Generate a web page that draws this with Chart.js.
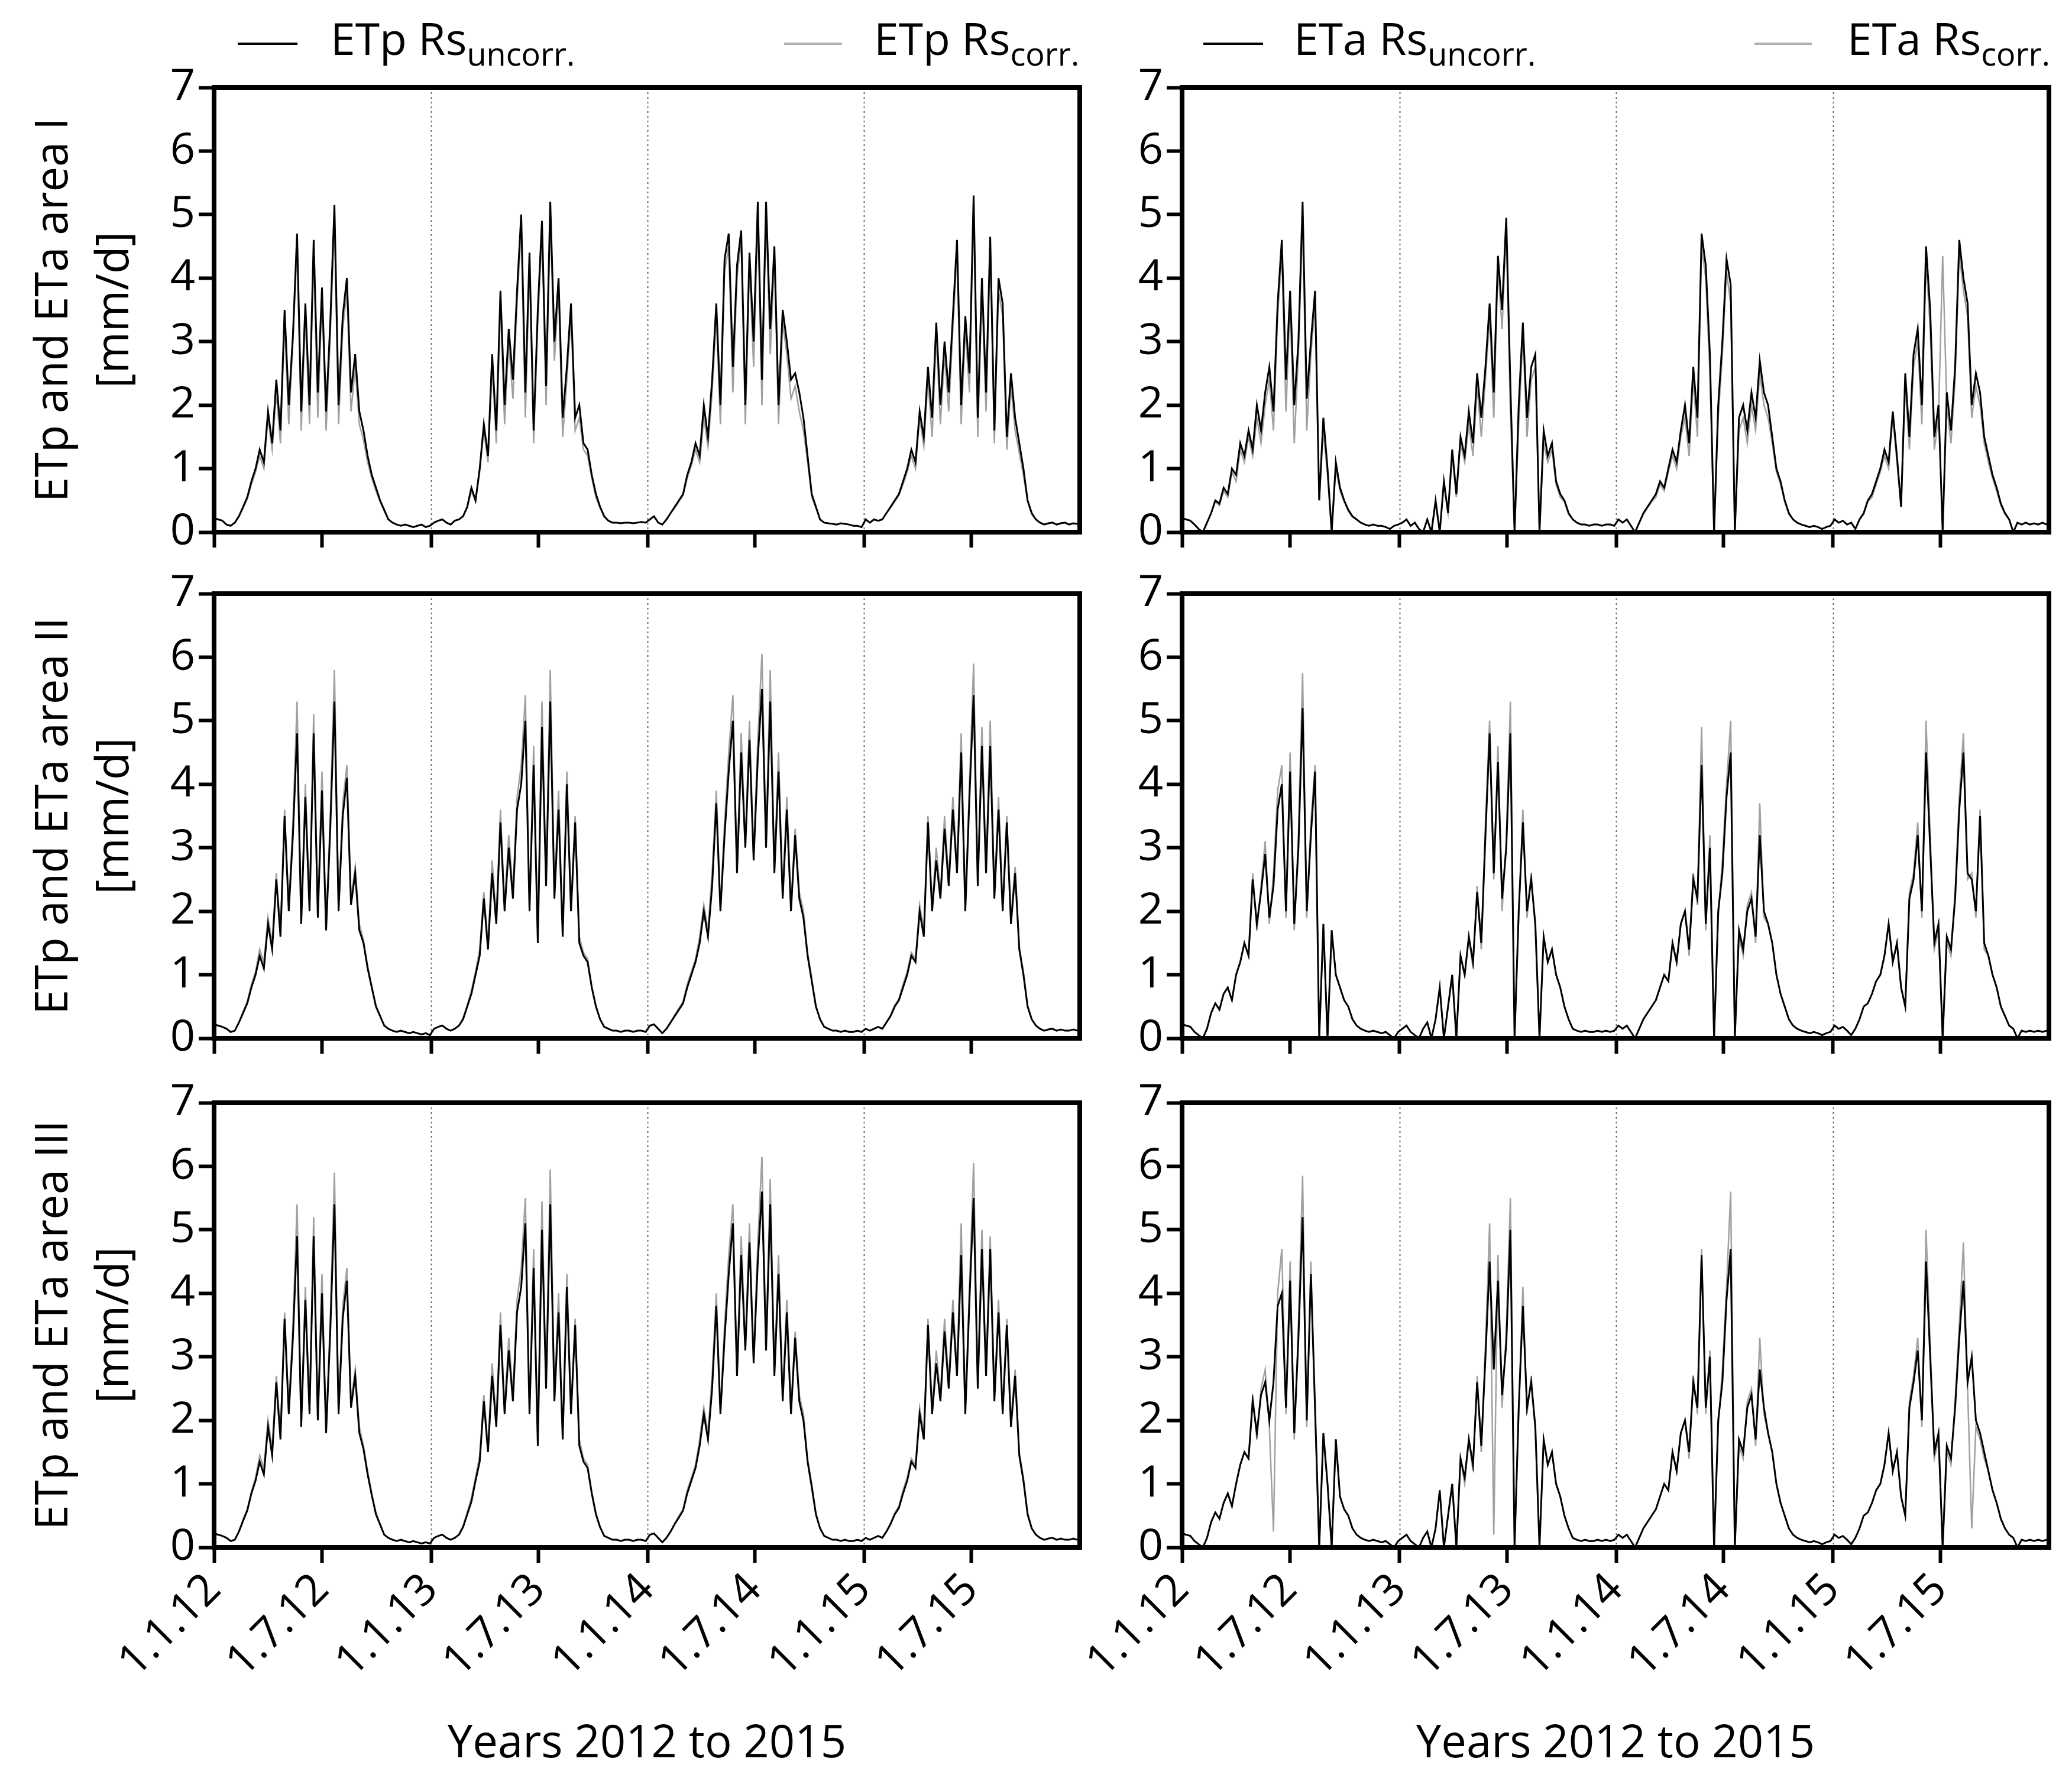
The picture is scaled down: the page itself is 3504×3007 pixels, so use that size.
<!DOCTYPE html>
<html><head><meta charset="utf-8">
<script src="https://cdn.jsdelivr.net/npm/chart.js@4.4.0/dist/chart.umd.min.js"></script>
<style>
html,body{margin:0;padding:0;background:#fff;}
body{width:3504px;height:3007px;position:relative;overflow:hidden;font-family:'Open Sans',sans-serif;color:#000;}
canvas{position:absolute;}
.leg{position:absolute;font-size:75px;line-height:75px;white-space:nowrap;top:27px;}
.leg sub{font-size:54px;vertical-align:-18px;line-height:0;}
.legline{position:absolute;height:4px;top:72px;}
.ytitle{position:absolute;width:900px;height:206px;font-size:76px;line-height:103px;text-align:center;transform:rotate(-90deg);white-space:nowrap;}
.xtitle{position:absolute;width:1000px;text-align:center;font-size:76px;line-height:76px;top:2905px;white-space:nowrap;}
</style></head><body>
<div class="legline" style="left:402px;width:101px;background:#000"></div>
<div class="leg" style="left:559px">ETp Rs<sub>uncorr.</sub></div>
<div class="legline" style="left:1326px;width:98px;background:#b0b0b0"></div>
<div class="leg" style="left:1478px">ETp Rs<sub>corr.</sub></div>
<div class="legline" style="left:2035px;width:101px;background:#000"></div>
<div class="leg" style="left:2188px">ETa Rs<sub>uncorr.</sub></div>
<div class="legline" style="left:2967px;width:97px;background:#b0b0b0"></div>
<div class="leg" style="left:3124px">ETa Rs<sub>corr.</sub></div>
<div class="xtitle" style="left:594px">Years 2012 to 2015</div>
<div class="xtitle" style="left:2232px">Years 2012 to 2015</div>
<script>
// ---- tick labels / axis data ----
const tickDays = [0, 182, 366, 547, 731, 912, 1096, 1277];
const tickLabels = ["1.1.12", "1.7.12", "1.1.13", "1.7.13", "1.1.14", "1.7.14", "1.1.15", "1.7.15"];
const yearLineDays = [366, 731, 1096];
const areaNames = ["I", "II", "III"];
const yTicks = [0, 1, 2, 3, 4, 5, 6, 7];
// weekly samples (every 7 days from 1.1.12), mm/d
const etpI_uncorr = [
0.22,0.2,0.18,0.12,0.1,0.15,0.25,0.4,0.55,0.8,1.0,1.3,1.1,1.9,1.4,2.4,1.6,3.5,2.0,3.1,4.7,1.9,3.6,2.0,4.6,2.2,3.85,1.9,3.3,5.15,2.0,3.4,4.0,2.2,2.8,1.9,1.6,1.2,0.9,0.7,0.5,0.35,0.2,0.15,0.12,0.1,0.12,0.1,0.08,0.1,0.12,0.08,0.1,
0.15,0.18,0.2,0.15,0.12,0.18,0.2,0.25,0.4,0.7,0.5,1.0,1.7,1.2,2.8,1.6,3.8,2.0,3.2,2.4,3.8,5.0,2.2,4.4,1.6,3.5,4.9,2.3,5.2,3.0,4.0,1.8,2.6,3.6,1.8,2.0,1.4,1.3,0.9,0.6,0.4,0.25,0.18,0.15,0.15,0.14,0.15,0.15,0.14,0.15,0.16,0.15,
0.2,0.25,0.15,0.12,0.2,0.3,0.4,0.5,0.6,0.9,1.1,1.4,1.2,2.0,1.5,2.4,3.6,2.0,4.3,4.7,2.6,4.2,4.75,2.0,4.4,3.0,5.2,2.4,5.2,3.2,4.5,2.0,3.5,3.0,2.4,2.5,2.2,1.8,1.2,0.6,0.4,0.2,0.15,0.14,0.13,0.12,0.14,0.13,0.12,0.1,0.1,0.08,
0.2,0.15,0.2,0.18,0.2,0.3,0.4,0.5,0.6,0.8,1.0,1.3,1.1,1.9,1.5,2.6,1.8,3.3,2.0,3.0,2.2,3.4,4.6,2.0,3.4,2.5,5.3,1.8,4.0,2.2,4.65,1.6,4.0,3.6,1.5,2.5,1.8,1.4,1.0,0.5,0.3,0.2,0.15,0.12,0.14,0.15,0.12,0.14,0.15,0.12,0.14,0.13];
const etpI_corr = [
0.22,0.2,0.18,0.12,0.1,0.15,0.25,0.38,0.52,0.75,0.95,1.2,1.0,1.8,1.3,2.2,1.4,3.3,1.7,3.0,4.5,1.6,3.4,1.7,4.4,1.8,3.7,1.6,3.1,4.9,1.7,3.2,3.8,1.9,2.6,1.7,1.45,1.1,0.85,0.65,0.48,0.33,0.2,0.15,0.12,0.1,0.12,0.1,0.08,0.1,0.12,0.08,0.1,
0.15,0.18,0.2,0.15,0.12,0.18,0.2,0.25,0.38,0.65,0.48,0.95,1.6,1.1,2.6,1.4,3.6,1.7,3.0,2.1,3.6,4.8,1.8,4.2,1.4,3.3,4.7,2.0,5.0,2.7,3.8,1.5,2.4,3.4,1.6,1.8,1.3,1.2,0.85,0.55,0.38,0.24,0.18,0.15,0.15,0.14,0.15,0.15,0.14,0.15,0.16,0.15,
0.2,0.25,0.15,0.12,0.2,0.3,0.38,0.48,0.58,0.85,1.05,1.3,1.1,1.8,1.35,2.2,3.4,1.7,4.1,4.5,2.2,4.0,4.6,1.7,4.2,2.6,5.0,2.0,5.0,2.8,4.3,1.7,3.3,2.8,2.1,2.3,1.9,1.6,1.1,0.55,0.38,0.2,0.15,0.14,0.13,0.12,0.14,0.13,0.12,0.1,0.1,0.08,
0.2,0.15,0.2,0.18,0.2,0.3,0.38,0.48,0.58,0.75,0.95,1.2,1.0,1.8,1.35,2.4,1.5,3.1,1.7,2.8,1.9,3.2,4.4,1.7,3.2,2.2,5.1,1.5,3.8,1.9,4.5,1.4,3.8,3.4,1.3,2.3,1.6,1.25,0.9,0.48,0.28,0.2,0.15,0.12,0.14,0.15,0.12,0.14,0.15,0.12,0.14,0.13];
const etpII_uncorr = [
0.22,0.2,0.18,0.15,0.1,0.12,0.25,0.4,0.55,0.8,1.0,1.3,1.1,1.8,1.4,2.5,1.6,3.5,2.0,3.2,4.8,1.8,3.8,2.0,4.8,1.9,3.9,1.7,3.3,5.3,2.0,3.5,4.1,2.1,2.6,1.7,1.5,1.1,0.8,0.5,0.35,0.2,0.15,0.12,0.1,0.12,0.1,0.08,0.1,0.08,0.06,0.08,0.05,
0.15,0.18,0.2,0.15,0.12,0.15,0.2,0.3,0.5,0.7,1.0,1.3,2.2,1.4,2.6,1.8,3.4,2.0,3.0,2.2,3.6,4.0,5.0,2.0,4.3,1.5,4.9,2.4,5.3,2.2,3.6,1.6,4.0,2.0,3.4,1.5,1.3,1.2,0.8,0.5,0.3,0.18,0.15,0.12,0.12,0.1,0.12,0.12,0.1,0.12,0.12,0.1,
0.2,0.22,0.15,0.08,0.15,0.25,0.35,0.45,0.55,0.8,1.0,1.2,1.5,2.0,1.6,2.4,3.7,2.0,3.2,4.2,5.0,2.6,4.5,3.0,4.7,2.8,4.4,5.5,3.0,5.3,2.6,4.2,2.2,3.6,2.0,3.2,2.2,1.9,1.3,0.9,0.5,0.3,0.18,0.15,0.12,0.12,0.1,0.12,0.1,0.1,0.12,0.1,
0.15,0.12,0.15,0.18,0.15,0.25,0.35,0.5,0.6,0.8,1.0,1.3,1.2,2.0,1.6,3.4,2.0,2.8,2.2,3.3,2.4,3.6,2.6,4.5,2.0,3.8,5.4,2.4,4.6,2.6,4.6,2.2,3.6,2.0,3.4,1.8,2.6,1.4,1.0,0.5,0.3,0.2,0.15,0.12,0.14,0.15,0.12,0.14,0.12,0.12,0.14,0.12];
const etpII_corr = [
0.22,0.2,0.18,0.15,0.1,0.12,0.25,0.42,0.58,0.85,1.05,1.4,1.2,1.9,1.5,2.6,1.7,3.6,2.1,3.4,5.3,1.9,4.0,2.1,5.1,2.0,4.2,1.8,3.5,5.8,2.1,3.7,4.3,2.2,2.7,1.8,1.55,1.15,0.82,0.52,0.36,0.2,0.15,0.12,0.1,0.12,0.1,0.08,0.1,0.08,0.06,0.08,0.05,
0.15,0.18,0.2,0.15,0.12,0.15,0.2,0.32,0.52,0.75,1.05,1.4,2.3,1.5,2.8,1.9,3.6,2.1,3.2,2.3,3.8,4.3,5.4,2.1,4.6,1.6,5.3,2.5,5.8,2.3,3.9,1.7,4.2,2.1,3.5,1.6,1.35,1.25,0.82,0.52,0.3,0.18,0.15,0.12,0.12,0.1,0.12,0.12,0.1,0.12,0.12,0.1,
0.2,0.22,0.15,0.08,0.15,0.25,0.37,0.47,0.58,0.85,1.05,1.25,1.6,2.1,1.7,2.6,3.9,2.1,3.4,4.5,5.4,2.7,4.8,3.1,5.0,2.9,4.7,6.05,3.1,5.8,2.7,4.5,2.3,3.8,2.1,3.3,2.3,2.0,1.35,0.95,0.52,0.3,0.18,0.15,0.12,0.12,0.1,0.12,0.1,0.1,0.12,0.1,
0.15,0.12,0.15,0.18,0.15,0.25,0.37,0.52,0.62,0.85,1.05,1.35,1.25,2.1,1.7,3.5,2.1,3.0,2.3,3.5,2.5,3.8,2.7,4.8,2.1,4.0,5.9,2.5,4.9,2.7,5.0,2.3,3.8,2.1,3.5,1.9,2.7,1.45,1.05,0.52,0.3,0.2,0.15,0.12,0.14,0.15,0.12,0.14,0.12,0.12,0.14,0.12];
const etpIII_uncorr = [
0.22,0.2,0.18,0.15,0.1,0.12,0.25,0.42,0.58,0.85,1.05,1.35,1.15,1.9,1.45,2.6,1.7,3.6,2.1,3.3,4.9,1.9,3.9,2.1,4.9,2.0,4.0,1.8,3.4,5.4,2.1,3.6,4.2,2.2,2.7,1.8,1.55,1.15,0.82,0.52,0.36,0.2,0.15,0.12,0.1,0.12,0.1,0.08,0.1,0.08,0.06,0.08,0.06,
0.15,0.18,0.2,0.15,0.12,0.15,0.2,0.32,0.52,0.72,1.05,1.35,2.3,1.5,2.7,1.9,3.5,2.1,3.1,2.3,3.7,4.1,5.1,2.1,4.4,1.6,5.0,2.5,5.4,2.3,3.7,1.7,4.1,2.1,3.5,1.6,1.35,1.25,0.85,0.52,0.32,0.18,0.15,0.12,0.12,0.1,0.12,0.12,0.1,0.12,0.12,0.1,
0.2,0.22,0.15,0.08,0.15,0.25,0.37,0.47,0.58,0.85,1.05,1.25,1.6,2.1,1.7,2.5,3.8,2.1,3.3,4.3,5.1,2.7,4.6,3.1,4.8,2.9,4.5,5.6,3.1,5.4,2.7,4.3,2.3,3.7,2.1,3.3,2.3,2.0,1.35,0.95,0.52,0.3,0.18,0.15,0.12,0.12,0.1,0.12,0.1,0.1,0.12,0.1,
0.15,0.12,0.15,0.18,0.15,0.25,0.37,0.52,0.62,0.85,1.05,1.35,1.25,2.1,1.7,3.5,2.1,2.9,2.3,3.4,2.5,3.7,2.7,4.6,2.1,3.9,5.5,2.5,4.7,2.7,4.7,2.3,3.7,2.1,3.5,1.9,2.7,1.45,1.05,0.52,0.3,0.2,0.15,0.12,0.14,0.15,0.12,0.14,0.12,0.12,0.14,0.12];
const etpIII_corr = [
0.22,0.2,0.18,0.15,0.1,0.12,0.25,0.44,0.6,0.88,1.1,1.45,1.25,2.0,1.55,2.7,1.8,3.7,2.2,3.5,5.4,2.0,4.1,2.2,5.2,2.1,4.3,1.9,3.6,5.9,2.2,3.8,4.4,2.3,2.8,1.9,1.6,1.2,0.85,0.55,0.37,0.2,0.15,0.12,0.1,0.12,0.1,0.08,0.1,0.08,0.06,0.08,0.06,
0.15,0.18,0.2,0.15,0.12,0.15,0.2,0.34,0.55,0.78,1.1,1.45,2.4,1.6,2.9,2.0,3.7,2.2,3.3,2.4,3.9,4.4,5.5,2.2,4.7,1.7,5.45,2.6,5.95,2.4,4.0,1.8,4.3,2.2,3.6,1.7,1.4,1.3,0.88,0.55,0.32,0.18,0.15,0.12,0.12,0.1,0.12,0.12,0.1,0.12,0.12,0.1,
0.2,0.22,0.15,0.08,0.15,0.25,0.38,0.5,0.6,0.9,1.1,1.3,1.7,2.2,1.8,2.7,4.0,2.2,3.5,4.6,5.4,2.8,4.9,3.2,5.1,3.0,4.8,6.15,3.2,5.8,2.8,4.6,2.4,3.9,2.2,3.4,2.4,2.1,1.4,1.0,0.55,0.3,0.18,0.15,0.12,0.12,0.1,0.12,0.1,0.1,0.12,0.1,
0.15,0.12,0.15,0.18,0.15,0.25,0.38,0.54,0.65,0.9,1.1,1.4,1.3,2.2,1.8,3.6,2.2,3.1,2.4,3.6,2.6,3.9,2.8,5.1,2.2,4.1,6.05,2.6,5.0,2.8,4.9,2.4,3.9,2.2,3.6,2.0,2.8,1.5,1.1,0.55,0.3,0.2,0.15,0.12,0.14,0.15,0.12,0.14,0.12,0.12,0.14,0.12];
const etaI_uncorr = [
0.22,0.2,0.18,0.12,0.05,0.0,0.15,0.3,0.5,0.45,0.7,0.6,1.0,0.9,1.4,1.2,1.6,1.3,2.0,1.6,2.2,2.6,1.9,3.6,4.6,2.4,3.8,2.0,3.0,5.2,2.1,3.0,3.8,0.5,1.8,1.0,0.0,1.1,0.7,0.5,0.35,0.25,0.2,0.15,0.12,0.1,0.12,0.1,0.1,0.08,0.05,0.1,0.12,
0.15,0.2,0.1,0.15,0.05,0.0,0.2,0.0,0.5,0.0,0.8,0.3,1.3,0.6,1.5,1.2,1.9,1.4,2.5,1.8,2.6,3.6,2.2,4.35,3.5,4.95,2.3,0.0,2.0,3.3,1.8,2.6,2.8,0.0,1.6,1.2,1.4,0.8,0.6,0.5,0.3,0.2,0.15,0.12,0.12,0.1,0.12,0.12,0.1,0.12,0.12,0.1,
0.2,0.15,0.2,0.1,0.0,0.15,0.3,0.4,0.5,0.6,0.8,0.7,1.0,1.3,1.1,1.6,2.0,1.4,2.6,1.8,4.7,4.2,2.8,0.0,2.0,3.0,4.3,3.9,0.0,1.8,2.0,1.6,2.2,1.8,2.7,2.2,2.0,1.5,1.0,0.8,0.5,0.3,0.2,0.15,0.12,0.1,0.08,0.1,0.08,0.05,0.08,0.1,
0.2,0.15,0.18,0.12,0.15,0.05,0.2,0.3,0.5,0.6,0.8,1.0,1.3,1.1,1.9,1.2,0.4,2.5,1.5,2.8,3.2,2.0,4.5,3.5,1.5,2.0,0.0,2.2,1.6,2.6,4.6,4.0,3.6,2.0,2.5,2.2,1.5,1.2,0.9,0.7,0.45,0.3,0.2,0.0,0.15,0.12,0.15,0.12,0.14,0.12,0.15,0.12];
const etaI_corr = [
0.22,0.2,0.18,0.12,0.05,0.0,0.15,0.3,0.48,0.42,0.65,0.55,0.95,0.8,1.3,1.1,1.5,1.2,1.8,1.4,2.0,2.4,1.6,3.4,4.4,1.9,3.6,1.4,2.8,4.9,1.6,2.8,3.6,0.5,1.6,0.9,0.0,1.0,0.65,0.48,0.33,0.24,0.2,0.15,0.12,0.1,0.12,0.1,0.1,0.08,0.05,0.1,0.12,
0.15,0.2,0.1,0.15,0.05,0.0,0.2,0.0,0.45,0.0,0.75,0.3,1.2,0.55,1.4,1.1,1.7,1.2,2.3,1.5,2.4,3.4,1.8,4.2,3.2,4.8,1.9,0.0,1.7,3.1,1.5,2.4,2.6,0.0,1.4,1.1,1.3,0.75,0.55,0.48,0.28,0.2,0.15,0.12,0.12,0.1,0.12,0.12,0.1,0.12,0.12,0.1,
0.2,0.15,0.2,0.1,0.0,0.15,0.28,0.38,0.48,0.55,0.75,0.65,0.95,1.2,1.0,1.5,1.8,1.2,2.4,1.5,4.5,4.0,2.5,0.0,1.8,2.8,4.1,3.6,0.0,1.6,1.8,1.4,2.0,1.6,2.5,2.0,1.8,1.4,0.95,0.75,0.48,0.28,0.2,0.15,0.12,0.1,0.08,0.1,0.08,0.05,0.08,0.1,
0.2,0.15,0.18,0.12,0.15,0.05,0.2,0.28,0.48,0.55,0.75,0.95,1.2,1.0,1.8,1.1,0.4,2.3,1.3,2.6,3.0,1.7,4.3,3.2,1.3,1.8,4.35,2.0,1.4,2.4,4.4,3.8,3.4,1.8,2.3,2.0,1.4,1.1,0.85,0.65,0.42,0.28,0.2,0.0,0.15,0.12,0.15,0.12,0.14,0.12,0.15,0.12];
const etaII_uncorr = [
0.22,0.2,0.18,0.1,0.05,0.0,0.15,0.4,0.55,0.45,0.7,0.8,0.6,1.0,1.2,1.5,1.3,2.5,1.8,2.3,2.9,1.9,2.4,3.6,4.0,2.0,4.2,1.8,3.0,5.2,2.0,3.2,4.2,0.0,1.8,0.0,1.7,1.0,0.8,0.6,0.5,0.3,0.2,0.15,0.12,0.1,0.12,0.1,0.08,0.1,0.05,0.0,0.1,
0.15,0.2,0.1,0.05,0.0,0.15,0.25,0.0,0.3,0.8,0.0,0.5,1.0,0.0,1.3,1.0,1.6,1.2,2.3,1.5,3.2,4.8,2.6,4.35,2.2,3.0,4.8,0.0,2.0,3.4,2.0,2.5,1.8,0.0,1.6,1.2,1.4,1.0,0.8,0.5,0.3,0.15,0.12,0.1,0.12,0.1,0.1,0.12,0.1,0.12,0.1,0.12,
0.2,0.15,0.2,0.1,0.0,0.15,0.3,0.4,0.5,0.6,0.8,1.0,0.9,1.5,1.2,1.8,2.0,1.4,2.5,2.2,4.3,1.8,3.0,0.0,2.0,2.6,3.8,4.5,0.0,1.7,1.4,2.0,2.2,1.6,3.2,2.0,1.8,1.5,1.0,0.7,0.5,0.3,0.2,0.15,0.12,0.1,0.08,0.1,0.08,0.05,0.08,0.1,
0.2,0.15,0.18,0.12,0.05,0.15,0.3,0.5,0.55,0.7,0.9,1.0,1.3,1.8,1.2,1.5,0.8,0.5,2.2,2.5,3.2,2.0,4.5,3.0,1.5,1.8,0.0,1.6,1.4,2.2,3.6,4.5,2.6,2.5,2.0,3.5,1.5,1.3,1.0,0.8,0.5,0.35,0.2,0.15,0.0,0.12,0.1,0.12,0.1,0.12,0.1,0.12];
const etaII_corr = [
0.22,0.2,0.18,0.1,0.05,0.0,0.15,0.4,0.55,0.45,0.7,0.8,0.6,1.0,1.2,1.5,1.3,2.6,1.7,2.4,3.1,1.8,2.6,3.9,4.3,1.9,4.5,1.7,3.2,5.75,1.9,3.4,4.3,0.0,1.7,0.0,1.7,1.0,0.8,0.6,0.5,0.3,0.2,0.15,0.12,0.1,0.12,0.1,0.08,0.1,0.05,0.0,0.1,
0.15,0.2,0.1,0.05,0.0,0.15,0.25,0.0,0.3,0.8,0.0,0.5,1.0,0.0,1.3,1.0,1.6,1.1,2.4,1.4,3.4,5.0,2.5,4.6,2.0,3.1,5.3,0.0,1.9,3.6,1.9,2.6,1.7,0.0,1.6,1.2,1.4,1.0,0.8,0.5,0.3,0.15,0.12,0.1,0.12,0.1,0.1,0.12,0.1,0.12,0.1,0.12,
0.2,0.15,0.2,0.1,0.0,0.15,0.3,0.4,0.5,0.6,0.8,1.0,0.9,1.5,1.2,1.8,2.0,1.3,2.6,2.1,4.9,1.7,3.2,0.0,1.9,2.8,4.0,5.0,0.0,1.6,1.3,2.1,2.3,1.5,3.7,1.9,1.8,1.5,1.0,0.7,0.5,0.3,0.2,0.15,0.12,0.1,0.08,0.1,0.08,0.05,0.08,0.1,
0.2,0.15,0.18,0.12,0.05,0.15,0.3,0.5,0.55,0.7,0.9,1.0,1.3,1.8,1.2,1.5,0.8,0.5,2.3,2.6,3.4,1.9,5.0,3.2,1.4,1.7,0.0,1.5,1.3,2.3,3.8,4.8,2.5,2.6,1.9,3.6,1.4,1.3,1.0,0.8,0.5,0.35,0.2,0.15,0.0,0.12,0.1,0.12,0.1,0.12,0.1,0.12];
const etaIII_uncorr = [
0.22,0.2,0.18,0.1,0.05,0.0,0.15,0.4,0.55,0.45,0.7,0.85,0.65,1.0,1.3,1.5,1.4,2.3,1.8,2.4,2.6,2.0,2.6,3.8,4.0,2.2,4.2,1.8,3.3,5.2,2.0,4.3,2.2,0.0,1.8,1.0,0.0,1.7,0.8,0.6,0.5,0.3,0.2,0.15,0.12,0.1,0.12,0.1,0.08,0.1,0.05,0.0,0.1,
0.15,0.2,0.1,0.05,0.0,0.15,0.25,0.0,0.3,0.9,0.0,0.5,1.0,0.0,1.4,1.1,1.7,1.3,2.6,1.6,3.0,4.5,2.8,4.2,2.4,3.2,5.0,0.0,2.2,3.8,2.2,2.6,1.9,0.0,1.7,1.3,1.5,1.0,0.8,0.5,0.3,0.15,0.12,0.1,0.12,0.1,0.1,0.12,0.1,0.12,0.1,0.12,
0.2,0.15,0.2,0.1,0.0,0.15,0.3,0.4,0.5,0.6,0.8,1.0,0.9,1.5,1.2,1.8,2.0,1.5,2.6,2.2,4.6,2.2,3.0,0.0,2.0,2.6,3.9,4.7,0.0,1.7,1.5,2.2,2.4,1.7,2.8,2.2,1.8,1.5,1.0,0.7,0.5,0.3,0.2,0.15,0.12,0.1,0.08,0.1,0.08,0.05,0.08,0.1,
0.2,0.15,0.18,0.12,0.05,0.15,0.3,0.5,0.55,0.7,0.9,1.0,1.3,1.8,1.2,1.5,0.8,0.5,2.2,2.6,3.1,2.0,4.5,3.0,1.5,1.8,0.0,1.6,1.4,2.2,3.3,4.2,2.6,3.0,2.0,1.8,1.5,1.2,0.9,0.7,0.45,0.3,0.2,0.15,0.0,0.12,0.1,0.12,0.1,0.12,0.1,0.12];
const etaIII_corr = [
0.22,0.2,0.18,0.1,0.05,0.0,0.15,0.4,0.55,0.45,0.7,0.85,0.65,1.0,1.3,1.5,1.4,2.4,1.7,2.5,2.8,1.9,0.25,4.0,4.7,2.1,4.5,1.7,3.5,5.85,1.9,4.5,2.1,0.0,1.7,1.0,0.0,1.7,0.8,0.6,0.5,0.3,0.2,0.15,0.12,0.1,0.12,0.1,0.08,0.1,0.05,0.0,0.1,
0.15,0.2,0.1,0.05,0.0,0.15,0.25,0.0,0.3,0.9,0.0,0.5,1.0,0.0,1.4,1.0,1.7,1.2,2.7,1.5,3.2,5.1,0.2,4.6,2.2,3.4,5.5,0.0,2.1,4.1,2.1,2.7,1.8,0.0,1.7,1.3,1.5,1.0,0.8,0.5,0.3,0.15,0.12,0.1,0.12,0.1,0.1,0.12,0.1,0.12,0.1,0.12,
0.2,0.15,0.2,0.1,0.0,0.15,0.3,0.4,0.5,0.6,0.8,1.0,0.9,1.5,1.2,1.8,2.0,1.4,2.7,2.1,4.7,2.1,3.1,0.0,1.9,2.8,4.1,5.6,0.0,1.6,1.4,2.3,2.5,1.6,3.3,2.1,1.8,1.5,1.0,0.7,0.5,0.3,0.2,0.15,0.12,0.1,0.08,0.1,0.08,0.05,0.08,0.1,
0.2,0.15,0.18,0.12,0.05,0.15,0.3,0.5,0.55,0.7,0.9,1.0,1.3,1.8,1.2,1.5,0.8,0.5,2.3,2.7,3.3,1.9,5.0,3.2,1.4,1.7,0.0,1.5,1.3,2.3,3.5,4.8,2.5,0.3,1.9,1.7,1.4,1.2,0.9,0.7,0.45,0.3,0.2,0.15,0.0,0.12,0.1,0.12,0.1,0.12,0.1,0.12];

// ---- layout ----
const FONT = "'Open Sans', sans-serif";
Chart.defaults.font.family = FONT;
Chart.defaults.color = '#000';
const colLeft = [362, 1999], colWidth = [1464, 1466];
const rowTop = [148, 1004, 1865], plotH = 752;
const YW = 140, TP = 40, RP = 12, LP = 160;

const panels = [
  {col:0,row:0,u:etpI_uncorr,c:etpI_corr},{col:1,row:0,u:etaI_uncorr,c:etaI_corr},
  {col:0,row:1,u:etpII_uncorr,c:etpII_corr},{col:1,row:1,u:etaII_uncorr,c:etaII_corr},
  {col:0,row:2,u:etpIII_uncorr,c:etpIII_corr},{col:1,row:2,u:etaIII_uncorr,c:etaIII_corr}
];

const framePlugin = {
  id: 'frame',
  beforeDatasetsDraw(chart) {
    const {ctx, chartArea: a, scales: {x}} = chart;
    ctx.save();
    ctx.strokeStyle = '#666'; ctx.lineWidth = 2; ctx.setLineDash([3, 5]);
    yearLineDays.forEach(d => {
      const px = Math.round(x.getPixelForValue(d)) + 0.5;
      ctx.beginPath(); ctx.moveTo(px, a.top); ctx.lineTo(px, a.bottom); ctx.stroke();
    });
    ctx.restore();
  },
  afterDatasetsDraw(chart) {
    const {ctx, chartArea: a} = chart;
    ctx.save();
    ctx.strokeStyle = '#000'; ctx.lineWidth = 8; ctx.setLineDash([]);
    ctx.strokeRect(a.left, a.top, a.right - a.left, a.bottom - a.top);
    ctx.restore();
  }
};

const toPts = arr => arr.map((v, i) => ({x: i * 7, y: v}));

panels.forEach(p => {
  const xH = p.row === 2 ? 280 : 40;
  const cv = document.createElement('canvas');
  const W = LP + YW + colWidth[p.col] + RP, H = TP + plotH + xH;
  cv.width = W; cv.height = H;
  cv.style.left = (colLeft[p.col] - YW - LP) + 'px';
  cv.style.top = (rowTop[p.row] - TP) + 'px';
  cv.style.width = W + 'px'; cv.style.height = H + 'px';
  document.body.appendChild(cv);
  const gridOpts = {drawOnChartArea:false, drawTicks:true, tickLength:26, tickWidth:6, tickColor:'#000'};
  new Chart(cv, {
    type: 'line',
    data: {datasets: [
      {label:'uncorr', data: toPts(p.u), borderColor:'#000', borderWidth:3, pointRadius:0, tension:0, order:0},
      {label:'corr', data: toPts(p.c), borderColor:'#a0a0a0', borderWidth:2.5, pointRadius:0, tension:0, order:1}
    ]},
    options: {
      responsive:false, animation:false, events:[], parsing:false, normalized:true,
      layout:{padding:{top:TP, right:RP, left:LP, bottom:0}},
      plugins:{legend:{display:false}, tooltip:{enabled:false}},
      scales:{
        x:{type:'linear', min:0, max:1460,
           afterBuildTicks: s => { s.ticks = tickDays.map(v => ({value:v})); },
           ticks:{display: p.row === 2, autoSkip:false, minRotation:45, maxRotation:45, padding:2,
                  font:{size:74}, color:'#000',
                  callback: v => tickLabels[tickDays.indexOf(v)]},
           grid: gridOpts, border:{display:false},
           afterFit: s => { s.height = xH; s.paddingLeft = 0; s.paddingRight = 0; }},
        y:{type:'linear', min:0, max:7,
           afterBuildTicks: s => { s.ticks = yTicks.map(v => ({value:v})); },
           ticks:{padding:6, font:{size:74}, color:'#000'},
           grid: gridOpts, border:{display:false},
           afterFit: s => { s.width = YW; s.paddingTop = 0; s.paddingBottom = 0; }}
      }
    },
    plugins:[framePlugin]
  });
  if (p.col === 0) {
    const t = document.createElement('div');
    t.className = 'ytitle';
    const cy = rowTop[p.row] + plotH / 2;
    t.style.left = (136 - 450) + 'px';
    t.style.top = (cy - 103) + 'px';
    t.innerHTML = 'ETp and ETa area ' + areaNames[p.row] + '<br>[mm/d]';
    document.body.appendChild(t);
  }
});
</script>
</body></html>
